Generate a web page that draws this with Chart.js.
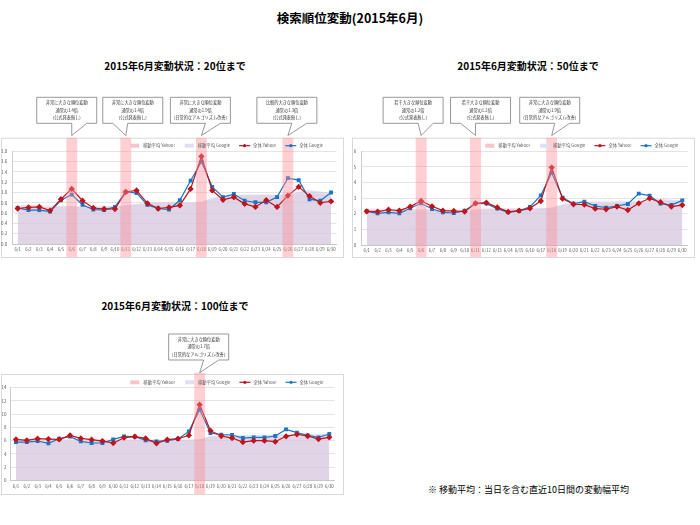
<!DOCTYPE html>
<html>
<head>
<meta charset="utf-8">
<script src="https://cdn.jsdelivr.net/npm/chart.js@4.4.0/dist/chart.umd.min.js"></script>
<style>
  body { margin: 0; background: #fff; width: 700px; height: 525px; position: relative; overflow: hidden;
         font-family: "Noto Sans CJK JP", sans-serif; color: #000; }
  .t { position: absolute; white-space: nowrap; transform: translate(-50%, -50%); font-weight: bold; }
  .wrap { position: absolute; width: 350px; height: 175px; }
</style>
</head>
<body>
<div class="t" style="left:350px;top:17px;font-size:12.5px">検索順位変動(2015年6月)</div>
<div class="t" style="left:175px;top:65px;font-size:10px">2015年6月変動状況：20位まで</div>
<div class="t" style="left:528px;top:65px;font-size:10px">2015年6月変動状況：50位まで</div>
<div class="t" style="left:175px;top:305px;font-size:10px">2015年6月変動状況：100位まで</div>
<div style="position:absolute;left:428px;top:483px;font-size:9px;white-space:nowrap">※ 移動平均：当日を含む直近10日間の変動幅平均</div>

<div class="wrap" style="left:0;top:90px"><canvas id="top20"></canvas></div>
<div class="wrap" style="left:350px;top:90px"><canvas id="top50"></canvas></div>
<div class="wrap" style="left:0;top:330px"><canvas id="top100"></canvas></div>

<script>
var days = ['6/1','6/2','6/3','6/4','6/5','6/6','6/7','6/8','6/9','6/10',
  '6/11','6/12','6/13','6/14','6/15','6/16','6/17','6/18','6/19','6/20',
  '6/21','6/22','6/23','6/24','6/25','6/26','6/27','6/28','6/29','6/30'];
var seriesNames = ['移動平均 Yahoo!', '移動平均 Google', '全体 Yahoo!', '全体 Google'];

// 20位まで
var top20MaYahoo = [0.76,0.76,0.76,0.75,0.74,0.74,0.73,0.73,0.74,0.74,0.76,0.78,0.80,0.81,0.81,0.80,0.80,0.81,0.87,0.92,0.93,0.94,0.94,0.95,0.94,0.94,0.98,1.00,0.97,0.95];
var top20MaGoogle = [0.72,0.72,0.72,0.72,0.73,0.73,0.72,0.72,0.73,0.73,0.75,0.77,0.79,0.80,0.80,0.79,0.80,0.82,0.90,0.94,0.95,0.96,0.96,0.96,0.96,0.96,1.02,1.05,1.02,1.00];
var top20Yahoo = [0.69,0.71,0.72,0.65,0.87,1.07,0.84,0.70,0.68,0.68,1.01,1.04,0.79,0.69,0.71,0.75,1.07,1.70,1.04,0.86,0.91,0.78,0.72,0.85,0.72,0.94,1.11,0.93,0.80,0.83];
var top20Google = [0.70,0.66,0.66,0.63,0.85,0.96,0.76,0.67,0.66,0.72,1.01,0.99,0.76,0.69,0.67,0.85,1.23,1.60,1.11,0.91,0.97,0.84,0.81,0.81,0.91,1.28,1.24,0.87,0.84,1.00];

// 50位まで
var top50MaYahoo = [2.32,2.32,2.31,2.30,2.30,2.31,2.30,2.29,2.29,2.28,2.32,2.36,2.37,2.36,2.36,2.35,2.36,2.38,2.55,2.68,2.72,2.72,2.72,2.73,2.72,2.72,2.82,2.88,2.82,2.78];
var top50MaGoogle = [2.22,2.22,2.21,2.20,2.21,2.22,2.21,2.20,2.20,2.20,2.25,2.30,2.32,2.32,2.32,2.32,2.35,2.40,2.62,2.74,2.78,2.78,2.79,2.80,2.80,2.82,2.92,2.97,2.90,2.86];
var top50Yahoo = [2.16,2.14,2.26,2.20,2.46,2.82,2.48,2.20,2.18,2.14,2.67,2.71,2.41,2.12,2.20,2.35,2.82,4.96,2.97,2.61,2.59,2.33,2.29,2.46,2.24,2.67,2.99,2.74,2.46,2.56];
var top50Google = [2.16,2.03,2.09,2.03,2.35,2.67,2.31,2.09,2.05,2.20,2.67,2.65,2.33,2.09,2.18,2.44,3.18,4.62,3.03,2.65,2.78,2.50,2.39,2.50,2.63,3.29,3.16,2.65,2.56,2.86];

// 100位まで
var top100MaYahoo = [6.20,6.20,6.20,6.21,6.21,6.22,6.22,6.21,6.20,6.18,6.20,6.22,6.22,6.20,6.19,6.18,6.18,6.20,6.55,6.62,6.62,6.58,6.55,6.55,6.52,6.50,6.55,6.58,6.55,6.55];
var top100MaGoogle = [5.90,5.90,5.90,5.91,5.93,5.95,5.95,5.95,5.95,5.95,6.00,6.05,6.06,6.05,6.05,6.05,6.12,6.20,6.70,6.82,6.85,6.85,6.88,6.90,6.92,6.95,7.00,7.02,7.00,6.95];
var top100Yahoo = [6.19,6.04,6.29,6.24,6.19,6.80,6.34,6.14,5.94,5.64,6.44,6.60,6.34,5.59,6.14,6.29,6.80,11.43,7.50,6.70,6.39,5.79,5.99,5.99,5.84,6.65,6.95,6.70,6.24,6.50];
var top100Google = [5.79,5.79,5.94,5.59,6.29,6.60,5.89,5.64,5.64,6.19,6.65,6.60,6.04,5.89,5.99,6.24,7.40,10.67,7.15,6.90,6.85,6.39,6.50,6.50,6.70,7.70,7.20,6.80,6.50,7.00];

// y axis: max, step
var top20Axis = [1.8, 0.2];
var top50Axis = [6, 1];
var top100Axis = [14, 2];

// callout texts
var noteBig14 = ['非常に大きな順位変動', '通常の1.4倍', '(公式発表無し)'];
var noteBig19 = ['非常に大きな順位変動', '通常の1.9倍', '(日常的なアルゴリズム改善)'];
var noteMid13 = ['比較的大きな順位変動', '通常の1.3倍', '(公式発表無し)'];
var noteSmall12 = ['若干大きな順位変動', '通常の1.2倍', '(公式発表無し)'];
var noteBig17 = ['非常に大きな順位変動', '通常の1.7倍', '(日常的なアルゴリズム改善)'];

var FONT = '"Noto Sans CJK JP", sans-serif';
var GREY = '#595959';

function drawCallout(ctx, tipX, tipY, bx, by, bw, bh, lines) {
  var cx = bx + bw / 2;
  var b1 = tipX >= cx ? bx + bw * 7 / 12 : bx + bw * 2 / 12;
  var b2 = tipX >= cx ? bx + bw * 10 / 12 : bx + bw * 5 / 12;
  ctx.beginPath();
  ctx.moveTo(bx, by);
  ctx.lineTo(bx + bw, by);
  ctx.lineTo(bx + bw, by + bh);
  ctx.lineTo(b2, by + bh);
  ctx.lineTo(tipX, tipY);
  ctx.lineTo(b1, by + bh);
  ctx.lineTo(bx, by + bh);
  ctx.closePath();
  ctx.fillStyle = '#fff';
  ctx.fill();
  ctx.strokeStyle = '#7f7f7f';
  ctx.lineWidth = 0.8;
  ctx.stroke();
  ctx.fillStyle = '#333';
  ctx.font = '4.2px ' + FONT;
  ctx.textAlign = 'center';
  ctx.textBaseline = 'middle';
  lines.forEach(function (s, i) {
    ctx.fillText(s, cx, by + 5.6 + i * 7.3);
  });
}

var deco = {
  id: 'deco',
  beforeDraw: function (chart, args, o) {
    var ctx = chart.ctx, f = o.frame;
    ctx.save();
    ctx.strokeStyle = '#d9d9d9';
    ctx.lineWidth = 1;
    ctx.strokeRect(f.l + 0.5, f.t + 0.5, f.r - f.l, f.b - f.t);
    ctx.restore();
  },
  afterDraw: function (chart, args, o) {
    var ctx = chart.ctx, f = o.frame;
    var x = chart.scales.x;
    var w = chart.chartArea.width / days.length;
    ctx.save();

    // highlight bands
    ctx.fillStyle = 'rgba(255,140,150,0.42)';
    o.callouts.forEach(function (c) {
      var px = x.getPixelForValue(days.indexOf(c.day));
      ctx.fillRect(px - w / 2, o.bandTop, w, f.b - o.bandTop);
    });

    // callouts
    o.callouts.forEach(function (c) {
      var px = x.getPixelForValue(days.indexOf(c.day));
      drawCallout(ctx, px, o.tipY, px + c.dx, o.boxY, 60, 26, c.text);
    });

    // legend
    ctx.font = '4.3px ' + FONT;
    ctx.textBaseline = 'middle';
    ctx.textAlign = 'left';
    var items = chart.data.datasets.map(function (ds) {
      return { ds: ds, tw: ctx.measureText(ds.label).width };
    });
    var sym = 11, gap = 3, sp = 9;
    var total = 0;
    items.forEach(function (it, i) { total += sym + gap + it.tw + (i ? sp : 0); });
    var lx = o.legendRight - total, ly = o.legendY;
    items.forEach(function (it) {
      var ds = it.ds;
      if (ds.fill) {
        ctx.fillStyle = ds.legendColor;
        ctx.fillRect(lx + 1, ly - 2, sym - 2, 4);
      } else {
        ctx.strokeStyle = ds.borderColor;
        ctx.lineWidth = 1.2;
        ctx.beginPath();
        ctx.moveTo(lx, ly);
        ctx.lineTo(lx + sym, ly);
        ctx.stroke();
        ctx.fillStyle = ds.borderColor;
        ctx.beginPath();
        ctx.arc(lx + sym / 2, ly, 1.6, 0, Math.PI * 2);
        ctx.fill();
      }
      ctx.fillStyle = GREY;
      ctx.fillText(ds.label, lx + sym + gap, ly);
      lx += sym + gap + it.tw + sp;
    });
    ctx.restore();
  }
};

function makeChart(id, maYahoo, maGoogle, yahoo, google, axis, decimals, lay, decoOpts) {
  var ctx = document.getElementById(id).getContext('2d');
  return new Chart(ctx, {
    type: 'line',
    data: {
      labels: days,
      datasets: [
        {
          label: seriesNames[0], data: maYahoo, fill: 'origin', order: 3,
          backgroundColor: 'rgba(245,185,195,0.42)', legendColor: '#f6c6cc',
          borderWidth: 0, pointRadius: 0, tension: 0
        },
        {
          label: seriesNames[1], data: maGoogle, fill: 'origin', order: 2,
          backgroundColor: 'rgba(198,202,230,0.52)', legendColor: '#dde0f0',
          borderWidth: 0, pointRadius: 0, tension: 0
        },
        {
          label: seriesNames[2], data: yahoo, fill: false, order: 0,
          borderColor: '#c0141c', backgroundColor: '#c0141c', borderWidth: 1.2,
          pointStyle: 'rectRot', pointRadius: 2.3, tension: 0
        },
        {
          label: seriesNames[3], data: google, fill: false, order: 1,
          borderColor: '#1a75c4', backgroundColor: '#1a75c4', borderWidth: 1.2,
          pointStyle: 'rect', pointRadius: 1.9, tension: 0
        }
      ]
    },
    options: {
      responsive: true,
      maintainAspectRatio: false,
      animation: false,
      layout: { padding: { left: 0, right: lay.right, top: lay.top, bottom: lay.bottom } },
      scales: {
        x: {
          offset: true,
          grid: { display: false, drawTicks: false },
          border: { display: true, color: '#bfbfbf', width: 0.8 },
          ticks: { font: { size: 4.3, family: FONT }, color: GREY, maxRotation: 0, minRotation: 0, autoSkip: false, padding: 3 }
        },
        y: {
          min: 0, max: axis[0],
          grid: { color: '#d9d9d9', lineWidth: 0.7, drawTicks: false },
          border: { display: true, color: '#bfbfbf', width: 0.8 },
          ticks: {
            stepSize: axis[1], padding: lay.tickPad, color: GREY,
            font: { size: 4.5, family: FONT },
            callback: function (v) { return v.toFixed(decimals); }
          },
          afterFit: function (s) { s.width = lay.yWidth; }
        }
      },
      plugins: {
        legend: { display: false },
        tooltip: { enabled: false },
        deco: decoOpts
      }
    },
    plugins: [deco]
  });
}

makeChart('top20', top20MaYahoo, top20MaGoogle, top20Yahoo, top20Google, top20Axis, 1,
  { right: 13.5, top: 61.3, bottom: 9.8, yWidth: 12.3, tickPad: 5 },
  {
    frame: { l: 1, t: 47.7, r: 343, b: 167 }, bandTop: 47.7, tipY: 45.5, boxY: 7.3,
    legendRight: 323, legendY: 55.7,
    callouts: [
      { day: '6/6', text: noteBig14, dx: -35 },
      { day: '6/11', text: noteBig14, dx: -23 },
      { day: '6/18', text: noteBig19, dx: -31 },
      { day: '6/26', text: noteMid13, dx: -31 }
    ]
  });

makeChart('top50', top50MaYahoo, top50MaGoogle, top50Yahoo, top50Google, top50Axis, 0,
  { right: 12.3, top: 61.3, bottom: 8.8, yWidth: 11.3, tickPad: 5 },
  {
    frame: { l: 2, t: 47.7, r: 344, b: 167 }, bandTop: 47.7, tipY: 45.5, boxY: 7.3,
    legendRight: 328.3, legendY: 55.7,
    callouts: [
      { day: '6/6', text: noteSmall12, dx: -38 },
      { day: '6/11', text: noteSmall12, dx: -25 },
      { day: '6/18', text: noteBig19, dx: -32 }
    ]
  });

makeChart('top100', top100MaYahoo, top100MaGoogle, top100Yahoo, top100Google, top100Axis, 0,
  { right: 15.3, top: 57.7, bottom: 13.5, yWidth: 10.6, tickPad: 4 },
  {
    frame: { l: 1, t: 44, r: 343, b: 164 }, bandTop: 42.7, tipY: 42.7, boxY: 4,
    legendRight: 323.3, legendY: 52.3,
    callouts: [
      { day: '6/18', text: noteBig17, dx: -31 }
    ]
  });
</script>
</body>
</html>
